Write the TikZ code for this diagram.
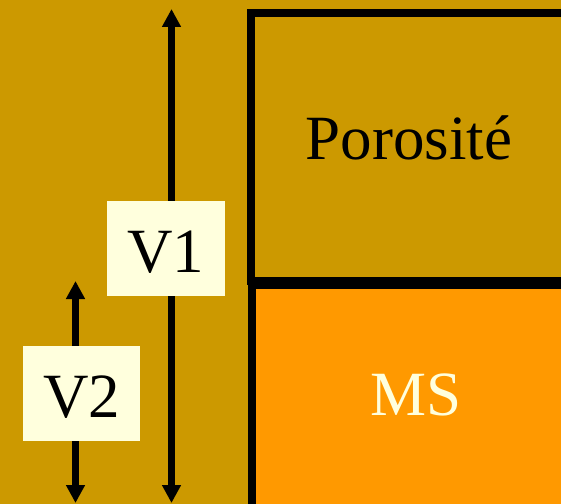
\documentclass[tikz,border=0pt]{standalone}
\usepackage{fontspec}
\setmainfont{Liberation Serif}
\usetikzlibrary{arrows.meta}
\definecolor{bggold}{HTML}{CC9900}
\definecolor{msorange}{HTML}{FF9900}
\definecolor{labelfill}{HTML}{FFFFDD}
\tikzset{
  bigtext/.style={font=\fontsize{63bp}{70bp}\selectfont, inner sep=0pt, anchor=base},
  compbox/.style={draw=black, line width=8bp, rectangle, inner sep=0pt},
  vlabel/.style={fill=labelfill, rectangle, inner sep=0pt, text height=71bp, text depth=24bp,
    minimum width=118bp, anchor=base, font=\fontsize{63bp}{70bp}\selectfont},
  varrow/.style={line width=6.5bp, {Triangle[width=18bp,length=18bp]}-{Triangle[width=18bp,length=18bp]}},
}
\begin{document}
\begin{tikzpicture}[x=1bp,y=-1bp]
\fill[bggold] (0,0) rectangle (561,504);
\useasboundingbox (0,0) rectangle (561,504);
% component boxes
\node[compbox, minimum width=316bp, minimum height=268bp] (por) at (409,147) {};
\node[compbox, fill=msorange, minimum width=328bp, minimum height=235bp] (ms) at (416,402.5) {};
\node[bigtext, text=black] (portxt) at (409,160) {Porosité};
\node[bigtext, text=labelfill] (mstxt) at (416,415) {MS};
% arrows
\coordinate (v1top) at (171.5,9);
\coordinate (v1bot) at (171.5,503);
\coordinate (v2top) at (75.5,281);
\coordinate (v2bot) at (75.5,503);
\draw[varrow] (v1top) -- (v1bot);
\draw[varrow] (v2top) -- (v2bot);
% labels
\node[vlabel] (v1) at (166,272) {V1};
\node[vlabel, minimum width=117bp] (v2) at (81.5,417) {V2};
\end{tikzpicture}
\end{document}
